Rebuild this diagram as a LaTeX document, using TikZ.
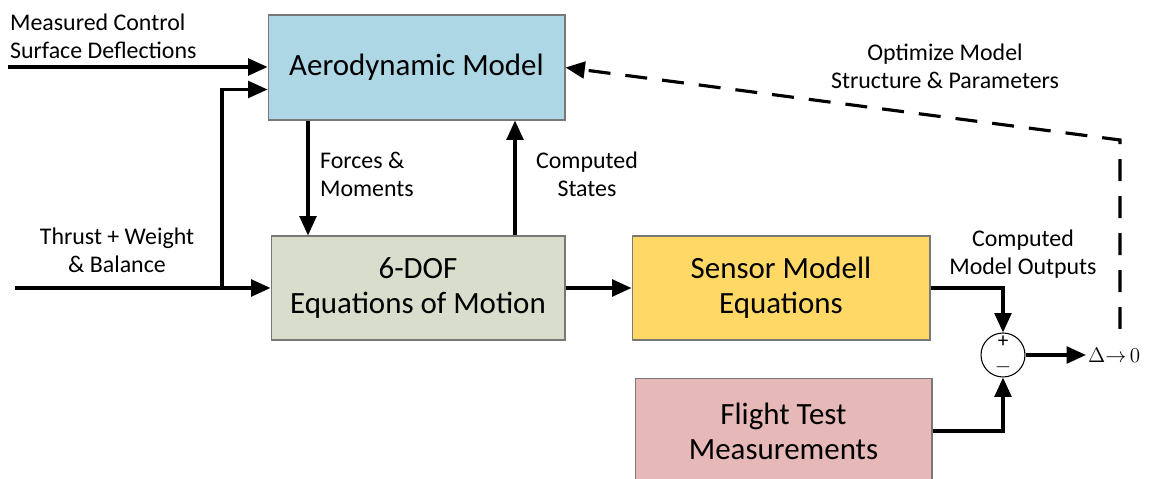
\documentclass[tikz,border=0pt]{standalone}
\usepackage{fontspec}
\setmainfont{Carlito}
\usepackage{xcolor}
\definecolor{aeroblue}{RGB}{173,215,229}
\definecolor{dofgreen}{RGB}{216,222,203}
\definecolor{sensgold}{RGB}{255,216,102}
\definecolor{ftrose}{RGB}{230,184,183}
\definecolor{boxgray}{RGB}{120,120,120}
\usetikzlibrary{arrows.meta,positioning,calc}

\begin{document}
\begin{tikzpicture}[x=0.02cm,y=-0.02cm,
  block/.style={draw=boxgray,line width=0.6pt,minimum width=5.94cm,minimum height=2.08cm,align=center,font=\fontsize{17.6}{20}\selectfont},
  lbl/.style={font=\fontsize{13.6}{16}\selectfont,align=center,inner sep=1pt},
  edge/.style={-{Triangle[length=11pt,width=9.5pt]},line width=1.8pt}]
  \clip (0,0) rectangle (1150,479);
  % Blocks
  \node[block,fill=aeroblue,minimum height=2.1cm] (aero) at (416.5,67.5) {Aerodynamic Model};
  \node[block,fill=dofgreen,minimum width=5.88cm] (dof) at (418,288) {6-DOF\\Equations of Motion};
  \node[block,fill=sensgold,minimum width=5.96cm] (sens) at (781,288) {Sensor Modell\\Equations};
  \node[block,fill=ftrose,minimum height=2.1cm] (ft) at (783.5,431) {Flight Test\\Measurements};
  % Summing junction
  \node[circle,draw,line width=0.6pt,minimum size=0.88cm,inner sep=0pt,align=center,
    font=\fontsize{12}{14}\selectfont] (sum) at (1003,355) {+\\$-$};
  \node[font=\fontsize{13}{13}\selectfont,inner sep=1pt,anchor=west] (dl) at (1086,355) {$\Delta{\rightarrow}\,0$};
  % Inputs
  \coordinate (msd) at (8,67);
  \coordinate (thr) at (15,288);
  \coordinate (br) at (222,288);
  \draw[edge] (msd) -- (msd -| aero.west);
  \draw[edge] (thr) -- (dof.west);
  \draw[edge] (br) |- ([yshift=-0.44cm]aero.west);
  \node[lbl,align=left,anchor=west] (msdl) at (8,36) {Measured Control\\Surface Deflections};
  \node[lbl] (thrl) at (117,250) {Thrust + Weight\\\& Balance};
  % Coupling between the models
  \coordinate (fm) at (308,0);
  \coordinate (cs) at (515,0);
  \draw[edge] (aero.south -| fm) -- (dof.north -| fm);
  \draw[edge] (dof.north -| cs) -- (aero.south -| cs);
  \node[lbl,align=left,anchor=west] (fml) at (318,174) {Forces \&\\Moments};
  \node[lbl] (csl) at (587,174) {Computed\\States};
  \draw[edge] (dof.east) -- (sens.west);
  % Output error
  \draw[edge] (sens.east) -| (sum.north);
  \draw[edge] (ft.east) -| (sum.south);
  \draw[edge] (sum.east) -- (dl.west);
  \node[lbl] (cmo) at (1023,254) {Computed\\Model Outputs};
  % Optimisation feedback
  \coordinate (opb) at (1120,329);
  \coordinate (opt) at (1120,140);
  \draw[edge,dash pattern=on 0.44cm off 0.3cm] (opb) -- (opt) -- (aero.east);
  \node[lbl] (optl) at (945,66) {Optimize Model\\Structure \& Parameters};
\end{tikzpicture}
\end{document}
